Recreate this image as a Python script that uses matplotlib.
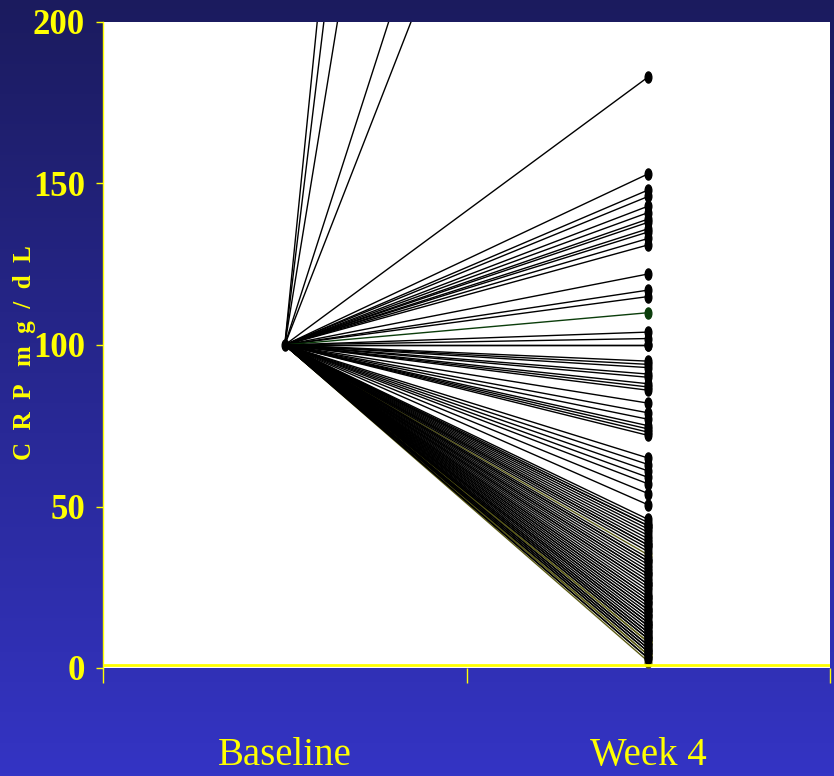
import numpy as np
import matplotlib
matplotlib.use("Agg")
import matplotlib.pyplot as plt
from matplotlib.path import Path

# CRP (mg/dL) per patient, baseline normalised to 100
baseline_value = 100
week4_high = [1220, 1030, 790, 450, 388]   # runs off the top of the axis
week4 = [183, 153, 148, 146, 143, 141, 139, 138, 136, 135, 133, 131,
         122, 117, 115, 110, 104, 102, 100, 100,
         95, 94, 93, 91, 90, 88, 87, 86, 82, 79, 77, 75, 74, 73, 72,
         65, 63, 61, 59, 57, 54, 50.5,
         46, 45, 44, 44, 43, 42, 41, 40, 39, 38, 38, 37, 36, 35, 34, 33,
         33, 32, 31, 30, 29, 29, 28, 27, 26, 26, 25, 24, 23, 22, 22, 21,
         20, 20, 19, 18, 18, 17, 16, 16, 15, 14, 14, 13, 13, 12, 11, 11,
         10, 10, 9, 9, 8, 8, 7, 7, 6, 6, 5, 5, 4, 4, 3, 3, 2]
timepoints = ["Baseline", "Week 4"]
yticks = [0, 50, 100, 150, 200]

# a few patients drawn in a different colour (olive ones sit underneath)
special = {110: "#0b3d0b", 35: "#5a5a14", 8: "#5a5a14", 4: "#5a5a14", 2: "#5a5a14"}

yellow = "#ffff00"
fig = plt.figure(figsize=(8.34, 7.76), dpi=100)

# blue gradient backdrop
bg = fig.add_axes([0, 0, 1, 1], zorder=-10)
top = np.array([27, 27, 94]) / 255
bot = np.array([52, 52, 196]) / 255
t = np.linspace(0, 1, 256)[:, None]
grad = (top[None, :] * (1 - t) + bot[None, :] * t)[:, None, :]
bg.imshow(grad, aspect="auto", extent=[0, 1, 0, 1], origin="upper")
bg.axis("off")

ax = fig.add_axes([103 / 834, 108 / 776, 727 / 834, 646 / 776])
ax.set_facecolor("white")
ax.set_xlim(0, 2)
ax.set_ylim(0, 200)

uc = Path.unit_circle()
ell = Path(uc.vertices * [0.6, 1.0], uc.codes)

xs = [0.5, 1.5]
for v in week4_high + week4:
    c = special.get(v, "black")
    z = 2 if c == "#5a5a14" else 3
    ax.plot(xs, [baseline_value, v], color=c, lw=1.0, zorder=z)
    ax.plot(xs[1], v, ls="none", marker=ell, ms=8, mfc=c, mec=c, zorder=z)
# shared starting point
ax.plot(xs[0], baseline_value, ls="none", marker=ell, ms=8, color="black",
        zorder=5)

ax.axhline(0.8, color=yellow, lw=2, zorder=4)

for s in ["top", "right", "bottom"]:
    ax.spines[s].set_visible(False)
ax.spines["left"].set_color(yellow)
ax.spines["left"].set_linewidth(1)

ax.set_yticks(yticks)
ax.set_yticklabels([str(v) for v in yticks], fontfamily="Liberation Serif",
                   fontweight="bold", fontsize=25, color=yellow)
ax.tick_params(axis="y", colors=yellow, length=5, width=1, pad=8)
ax.set_xticks([0, 1, 2])
ax.set_xticklabels([])
ax.tick_params(axis="x", colors=yellow, length=11, width=1)

for x, lab in zip(xs, timepoints):
    ax.text(x, -0.150, lab, transform=ax.get_xaxis_transform(), ha="center",
            va="baseline", fontfamily="Liberation Serif", fontsize=28,
            color=yellow)

fig.text(25 / 834, 1 - 353 / 776, "C  R  P   m  g  /  d  L", rotation=90,
         ha="center", va="center", fontfamily="Liberation Serif",
         fontweight="bold", fontsize=18, color=yellow)

fig.savefig("out.png", dpi=100)
